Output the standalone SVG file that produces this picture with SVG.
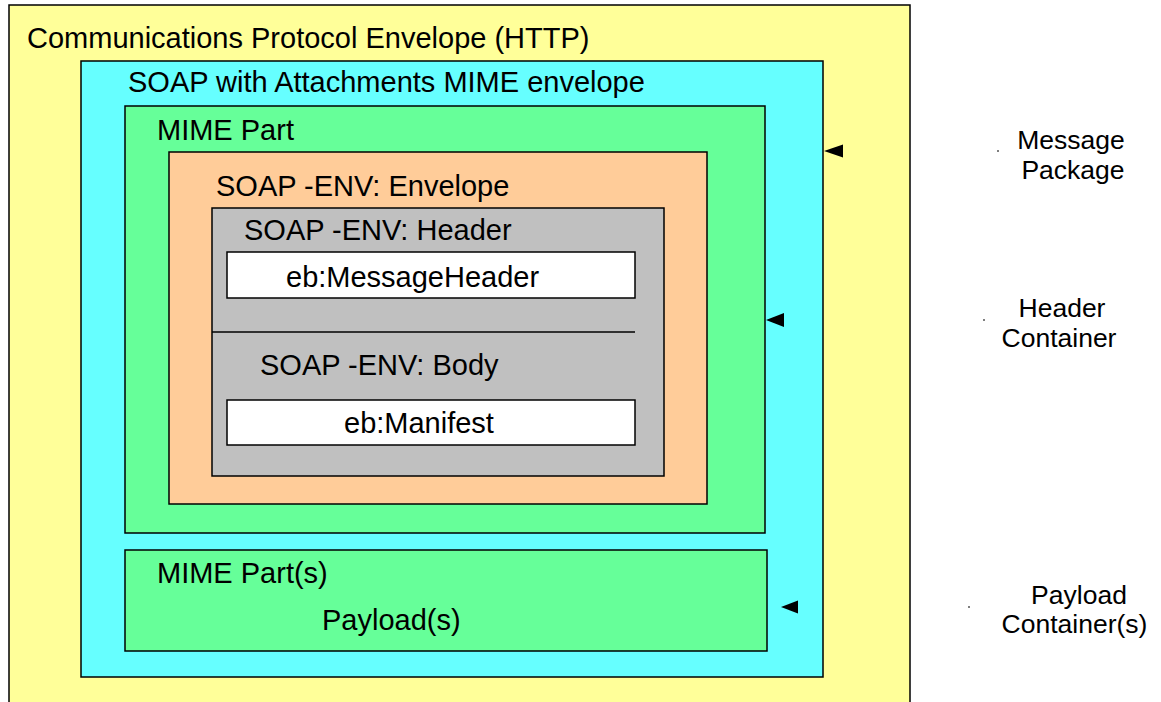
<svg xmlns="http://www.w3.org/2000/svg" width="1161" height="702" viewBox="0 0 1161 702">
<style>
rect{stroke:#000;stroke-width:1.5}
text{font-family:"Liberation Sans",Arial,sans-serif;font-size:29px;fill:#000}
.c{text-anchor:middle;font-size:26.5px}
</style>
<rect x="0" y="0" width="1161" height="702" style="fill:#fff;stroke:none"/>
<g id="http"><rect x="9" y="5" width="901" height="710" fill="#FFFF99"/><text x="27" y="48">Communications Protocol Envelope (HTTP)</text></g>
<g id="soapmime"><rect x="81" y="61" width="742" height="616" fill="#66FFFF"/><text x="128" y="92">SOAP with Attachments MIME envelope</text></g>
<g id="mimepart"><rect x="125" y="106" width="640" height="427" fill="#66FF99"/><text x="157" y="140">MIME Part</text></g>
<g id="envelope"><rect x="169" y="152" width="538" height="352" fill="#FFCC99"/><text x="216" y="196">SOAP -ENV: Envelope</text></g>
<g id="header"><rect x="212" y="208" width="452" height="268" fill="#C0C0C0"/><text x="244" y="240">SOAP -ENV: Header</text><line x1="212" y1="332" x2="635" y2="332" stroke="#000" stroke-width="1.5"/><text x="260" y="375">SOAP -ENV: Body</text></g>
<g id="msgheader"><rect x="227" y="252" width="408" height="46" fill="#fff"/><text x="286" y="287">eb:MessageHeader</text></g>
<g id="manifest"><rect x="227" y="400" width="408" height="45" fill="#fff"/><text x="344" y="433">eb:Manifest</text></g>
<g id="payloadpart"><rect x="125" y="550" width="642" height="101" fill="#66FF99"/><text x="157" y="583">MIME Part(s)</text><text x="322" y="630">Payload(s)</text></g>
<g id="connectors">
<polygon points="824,151 843,144.5 843,157.5" fill="#000"/>
<polygon points="766,320 784,313 784,327" fill="#000"/>
<polygon points="781,607 798,600.5 798,613.5" fill="#000"/>
<rect x="997" y="150.5" width="2" height="1" style="fill:#000;stroke:none"/>
<rect x="983" y="319.5" width="2" height="1" style="fill:#000;stroke:none"/>
<rect x="968" y="606.5" width="2" height="1" style="fill:#000;stroke:none"/>
</g>
<g id="lbl-message"><text class="c" x="1071" y="149">Message</text><text class="c" x="1073" y="179">Package</text></g>
<g id="lbl-header"><text class="c" x="1062" y="317">Header</text><text class="c" x="1059" y="347">Container</text></g>
<g id="lbl-payload"><text class="c" x="1079" y="604">Payload</text><text class="c" x="1074.5" y="633">Container(s)</text></g>
</svg>
